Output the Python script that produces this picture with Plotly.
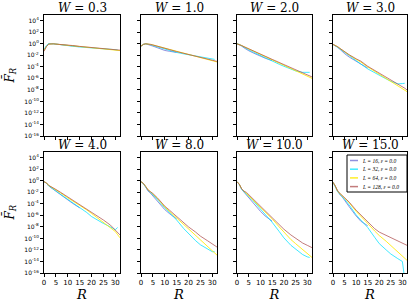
import plotly.graph_objects as go

# R sample points
R = [0, 1, 2, 3, 4, 5, 7, 10, 12, 15, 18, 20, 23, 25, 28, 30, 31, 32]
R_L16 = R[:10]
R_L32 = R[:17]
R_L64 = R
R_L128 = R

W_titles = ["0.3", "1.0", "2.0", "3.0", "4.0", "8.0", "10.0", "15.0"]
series_labels = ["L = 16, ε = 0.0", "L = 32, ε = 0.0", "L = 64, ε = 0.0", "L = 128, ε = 0.0"]
x_ticks = [0, 5, 10, 15, 20, 25, 30]
y_tick_exp = [4, 2, 0, -2, -4, -6, -8, -10, -12, -14, -16]
y_tick_text = [f"10<sup>{e}</sup>" for e in y_tick_exp]

# log10(F_R) values, per panel
logF_L16 = [
    [-1.1, -0.4, 0.0, 0.05, 0.0, -0.05, -0.15, -0.3, -0.38, -0.5],
    [-0.4, -0.1, 0.0, -0.1, -0.25, -0.4, -0.7, -1.15, -1.3, -1.5],
    [0.0, -0.15, -0.4, -0.7, -1.0, -1.2, -1.6, -2.15, -2.5, -2.9],
    [-0.1, -0.3, -0.6, -0.95, -1.35, -1.7, -2.3, -3.1, -3.5, -4.2],
    [-0.15, -0.4, -0.9, -1.2, -1.5, -1.85, -2.5, -3.4, -3.9, -4.7],
    [-0.15, -0.5, -1.1, -1.8, -2.15, -2.6, -3.6, -5.0, -5.7, -6.6],
    [-0.15, -0.65, -1.5, -2.0, -2.3, -2.8, -3.8, -5.3, -6.1, -7.0],
    [-0.25, -1.0, -1.9, -2.4, -2.8, -3.4, -4.5, -6.1, -7.0, -7.8],
]
logF_L32 = [
    [-1.0, -0.3, 0.05, 0.05, 0.0, -0.05, -0.15, -0.35, -0.42, -0.55, -0.62, -0.7, -0.8, -0.85, -0.95, -1.0, -1.05],
    [-0.4, -0.1, 0.0, -0.05, -0.15, -0.3, -0.55, -1.0, -1.2, -1.5, -1.75, -1.9, -2.15, -2.3, -2.5, -2.65, -2.7],
    [0.0, -0.1, -0.35, -0.6, -0.85, -1.05, -1.45, -2.05, -2.45, -3.0, -3.55, -3.9, -4.4, -4.7, -4.95, -4.95, -4.95],
    [-0.1, -0.3, -0.6, -0.9, -1.2, -1.55, -2.15, -3.0, -3.5, -4.35, -5.05, -5.5, -6.1, -6.5, -6.95, -6.9, -6.85],
    [-0.15, -0.4, -0.9, -1.15, -1.4, -1.75, -2.35, -3.2, -3.7, -4.5, -5.5, -6.2, -7.0, -7.4, -8.0, -8.5, -8.1],
    [-0.15, -0.5, -1.1, -1.7, -2.0, -2.4, -3.3, -4.7, -5.5, -6.8, -8.3, -9.2, -10.4, -11.1, -11.9, -12.3, -12.3],
    [-0.15, -0.65, -1.5, -1.9, -2.2, -2.6, -3.5, -4.9, -5.8, -7.2, -8.8, -9.9, -11.2, -11.9, -12.8, -13.2, -13.3],
    [-0.25, -1.0, -1.9, -2.35, -2.7, -3.2, -4.2, -5.9, -6.8, -8.1, -9.8, -10.9, -12.0, -12.7, -13.5, -14.0, -17.0],
]
logF_L64 = [
    [-1.2, -0.45, -0.05, 0.0, 0.0, -0.05, -0.12, -0.28, -0.35, -0.48, -0.6, -0.7, -0.8, -0.88, -1.0, -1.08, -1.12, -1.18],
    [-0.4, -0.1, 0.0, 0.0, -0.1, -0.2, -0.42, -0.85, -1.05, -1.4, -1.72, -1.93, -2.25, -2.45, -2.75, -2.95, -3.05, -3.15],
    [0.0, -0.1, -0.3, -0.5, -0.7, -0.9, -1.3, -1.85, -2.22, -2.8, -3.35, -3.72, -4.28, -4.65, -5.22, -5.6, -5.8, -6.0],
    [-0.1, -0.25, -0.5, -0.8, -1.1, -1.4, -1.95, -2.7, -3.15, -4.0, -4.75, -5.25, -5.95, -6.45, -7.2, -7.7, -7.95, -8.3],
    [-0.15, -0.35, -0.8, -1.05, -1.25, -1.55, -2.1, -2.95, -3.45, -4.2, -5.05, -5.65, -6.55, -7.15, -8.05, -8.8, -9.35, -9.9],
    [-0.15, -0.45, -1.0, -1.6, -1.9, -2.25, -3.1, -4.55, -5.3, -6.4, -7.6, -8.4, -9.5, -10.2, -11.3, -12.0, -12.4, -12.9],
    [-0.15, -0.6, -1.4, -1.8, -2.05, -2.45, -3.3, -4.55, -5.4, -6.6, -8.0, -8.9, -10.2, -10.9, -12.0, -12.7, -13.0, -13.3],
    [-0.25, -0.9, -1.8, -2.2, -2.5, -2.95, -3.8, -5.3, -6.1, -7.4, -8.7, -9.5, -10.5, -11.2, -12.3, -13.0, -13.4, -13.8],
]
logF_L128 = [
    [-1.3, -0.5, -0.05, 0.0, 0.0, -0.05, -0.1, -0.25, -0.3, -0.45, -0.55, -0.65, -0.75, -0.8, -0.95, -1.0, -1.05, -1.1],
    [-0.4, -0.1, 0.0, 0.0, -0.1, -0.2, -0.4, -0.8, -1.0, -1.35, -1.65, -1.85, -2.15, -2.35, -2.65, -2.85, -2.95, -3.05],
    [0.0, -0.1, -0.3, -0.5, -0.7, -0.9, -1.25, -1.8, -2.15, -2.7, -3.25, -3.6, -4.15, -4.5, -5.05, -5.4, -5.6, -5.75],
    [-0.1, -0.25, -0.5, -0.8, -1.1, -1.4, -1.9, -2.6, -3.0, -3.9, -4.6, -5.05, -5.75, -6.2, -6.9, -7.4, -7.7, -8.0],
    [-0.15, -0.35, -0.8, -1.0, -1.2, -1.5, -2.0, -2.8, -3.3, -4.0, -4.85, -5.4, -6.2, -6.8, -7.7, -8.5, -8.9, -9.4],
    [-0.15, -0.45, -1.0, -1.6, -1.9, -2.2, -3.0, -4.4, -5.1, -6.2, -7.3, -8.0, -8.9, -9.6, -10.4, -10.9, -11.2, -11.5],
    [-0.15, -0.6, -1.4, -1.8, -2.0, -2.4, -3.2, -4.4, -5.2, -6.3, -7.6, -8.4, -9.4, -10.0, -10.8, -11.2, -11.4, -11.6],
    [-0.25, -0.9, -1.8, -2.2, -2.5, -2.9, -3.7, -5.1, -5.9, -7.2, -8.3, -8.9, -9.5, -9.9, -10.4, -10.8, -11.0, -11.2],
]

colors = ["rgba(70,70,200,0.6)", "rgba(0,225,255,0.75)", "rgba(255,235,0,0.85)", "rgba(175,80,80,0.75)"]

W_px, H_px = 415, 307
col_px = [(44, 120), (141, 217), (237, 312), (333, 407)]
row_px = [(15, 136), (152, 273)]


def fx(px):
    return px / W_px


def fy(py):
    return 1 - py / H_px


fig = go.Figure()
serif = "DejaVu Serif"
sans = "DejaVu Sans"

for p in range(8):
    r, c = divmod(p, 4)
    idx = p + 1
    xa = "x" if idx == 1 else f"x{idx}"
    ya = "y" if idx == 1 else f"y{idx}"
    data = [(R_L16, logF_L16[p]), (R_L32, logF_L32[p]), (R_L64, logF_L64[p]), (R_L128, logF_L128[p])]
    for s, (rx, ly) in enumerate(data):
        fig.add_trace(go.Scatter(
            x=rx, y=[10 ** v for v in ly], mode="lines",
            line=dict(color=colors[s], width=1),
            name=series_labels[s], showlegend=False, hoverinfo="skip",
            xaxis=xa, yaxis=ya,
        ))
    x0, x1 = col_px[c]
    y0, y1 = row_px[r]
    xdom = [fx(x0), fx(x1)]
    ydom = [fy(y1), fy(y0)]
    xkey = "xaxis" if idx == 1 else f"xaxis{idx}"
    ykey = "yaxis" if idx == 1 else f"yaxis{idx}"
    fig.update_layout(**{
        xkey: dict(domain=xdom, anchor=ya, range=[0, 32], tickvals=x_ticks, automargin=False,
                   showticklabels=(r == 1), ticks="outside", ticklen=3, tickcolor="black",
                   showline=True, linecolor="black", linewidth=1, mirror=True,
                   showgrid=False, zeroline=False,
                   tickfont=dict(family=sans, size=7, color="black"),
                   title=dict(text="<i>R</i>" if r == 1 else "", font=dict(family=serif, size=13, color="black"), standoff=1)),
        ykey: dict(domain=ydom, anchor=xa, type="log", range=[-16, 5], automargin=False,
                   tickvals=[10.0 ** e for e in y_tick_exp], ticktext=y_tick_text,
                   showticklabels=(c == 0),
                   ticks="outside", ticklen=3, tickcolor="black",
                   showline=True, linecolor="black", linewidth=1, mirror=True,
                   showgrid=False, zeroline=False,
                   tickfont=dict(family=sans, size=6, color="black")),
    })
    fig.add_annotation(text=f"<i>W</i> = {W_titles[p]}", xref="paper", yref="paper",
                       x=(xdom[0] + xdom[1]) / 2, y=ydom[1], xanchor="center", yanchor="bottom",
                       yshift=-2, showarrow=False, font=dict(family=serif, size=12, color="black"))

for r in range(2):
    y0, y1 = row_px[r]
    fig.add_annotation(text="<i>F\u0304</i><sub><i>R</i></sub>", xref="paper", yref="paper",
                       x=fx(10), y=fy((y0 + y1) / 2), textangle=-90,
                       xanchor="center", yanchor="middle", showarrow=False,
                       font=dict(family=serif, size=12, color="black"))

# legend box drawn in the last panel (upper right)
lx0, lx1, ly0, ly1 = 347, 407, 155, 192
shapes = [dict(type="rect", xref="paper", yref="paper",
               x0=fx(lx0), x1=fx(lx1), y0=fy(ly1), y1=fy(ly0),
               line=dict(color="black", width=1), fillcolor="white", layer="above")]
for s, lab in enumerate(series_labels):
    yc = ly0 + 5.5 + s * 8.7
    shapes.append(dict(type="line", xref="paper", yref="paper",
                       x0=fx(lx0 + 3), x1=fx(lx0 + 11), y0=fy(yc), y1=fy(yc),
                       line=dict(color=colors[s], width=1.5), layer="above"))
    fig.add_annotation(text=f"<i>{lab}</i>", xref="paper", yref="paper",
                       x=fx(lx0 + 13), y=fy(yc), xanchor="left", yanchor="middle",
                       showarrow=False, font=dict(family="Liberation Serif", size=5.5, color="black"))
fig.update_layout(shapes=shapes)

fig.update_layout(
    template="none",
    width=W_px, height=H_px, margin=dict(l=0, r=0, t=0, b=0),
    paper_bgcolor="white", plot_bgcolor="white", showlegend=False,
    hovermode=False,
)

fig.write_html("out.html", config={"displayModeBar": False, "staticPlot": True},
               post_script="document.body.style.margin='0';document.body.style.padding='0';")
